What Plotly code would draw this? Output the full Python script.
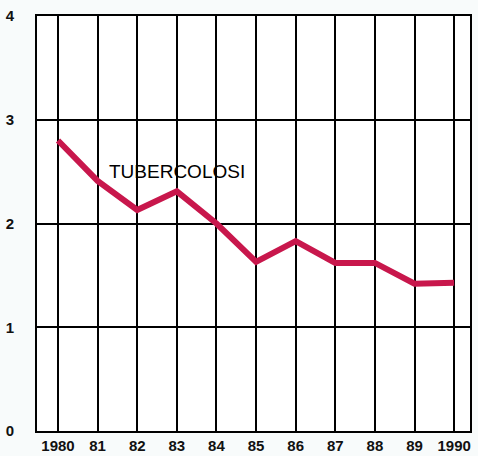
import plotly.graph_objects as go

years = [1980, 1981, 1982, 1983, 1984, 1985, 1986, 1987, 1988, 1989, 1990]
year_labels = ['1980', '81', '82', '83', '84', '85', '86', '87', '88', '89', '1990']
tbc_rate = [2.80, 2.41, 2.13, 2.31, 2.00, 1.63, 1.83, 1.62, 1.62, 1.42, 1.43]
y_ticks = [0, 1, 2, 3, 4]

fig = go.Figure()
fig.add_trace(go.Scatter(x=years, y=tbc_rate, mode='lines',
                         line=dict(color='#c8174c', width=6),
                         showlegend=False))

fig.add_annotation(x=1983.0, y=2.5, text='TUBERCOLOSI', showarrow=False,
                   font=dict(family='Liberation Sans, Arial', size=19, color='black',
                             weight='normal'))

fig.update_layout(
    width=478, height=456,
    margin=dict(l=37, r=8, t=16, b=25),
    paper_bgcolor='#f8fbfb', plot_bgcolor='white',
    font=dict(family='Liberation Sans, Arial', size=15, color='#111', weight='bold'),
)
fig.update_xaxes(range=[1979.47, 1990.4], tickvals=years, ticktext=year_labels,
                 showgrid=True, gridcolor='black', gridwidth=2,
                 showline=True, linecolor='black', linewidth=2, mirror=True,
                 zeroline=False, ticks='', ticklabelstandoff=0, automargin=False)
fig.update_yaxes(range=[0, 4], tickvals=y_ticks,
                 showgrid=True, gridcolor='black', gridwidth=1.5,
                 showline=True, linecolor='black', linewidth=2, mirror=True,
                 zeroline=False, ticks='', ticklabelstandoff=18, automargin=False)

# page body has a default margin; drop it so the figure fills the window
fig.write_html("out.html", config={'displayModeBar': False},
               post_script="document.body.style.margin='0';")
